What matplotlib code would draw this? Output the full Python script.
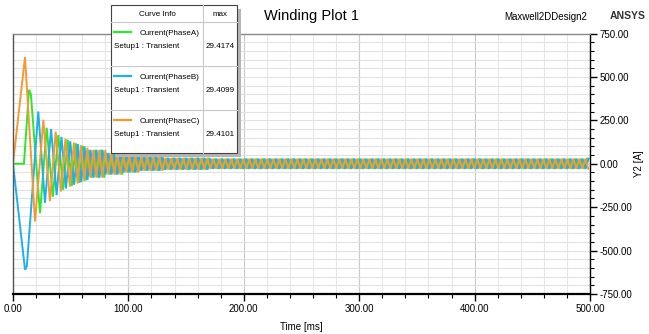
import numpy as np
import matplotlib
matplotlib.use("Agg")
import matplotlib.pyplot as plt
from matplotlib.patches import Rectangle
from matplotlib.lines import Line2D
from matplotlib.ticker import MultipleLocator, FormatStrFormatter

plt.rcParams['font.family'] = ['Liberation Sans', 'DejaVu Sans']

phaseA_t = [0, 9.5, 13.9, 15.5, 23.4, 29.2, 34.5, 39.3, 43.5, 47.4, 51.0, 54.4, 57.6, 60.6, 63.4]
phaseA_v = [0, 0, 426, 400, -284, 207, -190, 165, -150, 138, -127, 118, -110, 103, -96]
phaseB_t = [0, 10.4, 12.0, 21.9, 27.7, 33.0, 37.8, 42.0, 45.9, 49.6, 53.0, 56.2, 59.2, 62.0, 64.6]
phaseB_v = [0, -610, -590, 301, -225, 200, -180, 155, -142, 130, -121, 113, -106, 99, -93]
phaseC_t = [0, 10.4, 19.1, 26.3, 32.0, 37.0, 41.5, 45.5, 49.3, 52.8, 56.0, 59.0, 61.8, 64.4]
phaseC_v = [0, 614, -332, 253, -215, 185, -160, 145, -132, 122, -114, 106, -99, 92]

# tail: peak amplitude per time segment (piecewise constant), half period of the oscillation
tail_edges = [64, 80, 95, 110, 130, 170, 500]
tail_amp = [80, 62, 50, 40, 34, 29.4]
tail_half_period = 2.6

series_names = ["Current(PhaseA)", "Current(PhaseB)", "Current(PhaseC)"]
series_max = ["29.4174", "29.4099", "29.4101"]
colors = ["#2ee62e", "#1eb0ec", "#f59a32"]

x_ticks = [0, 100, 200, 300, 400, 500]
y_ticks = [-750, -500, -250, 0, 250, 500, 750]


def build(t_list, v_list):
    t = list(t_list)
    v = list(v_list)
    sign = -np.sign(v[-1])
    tt = t[-1] + tail_half_period
    while tt <= 500:
        k = np.searchsorted(tail_edges, tt, side="right") - 1
        k = min(max(k, 0), len(tail_amp) - 1)
        t.append(tt)
        v.append(sign * tail_amp[k])
        sign = -sign
        tt += tail_half_period
    return np.array(t), np.array(v)


W, H = 649, 334
fig = plt.figure(figsize=(W / 100, H / 100), dpi=100)
fig.patch.set_facecolor("white")


def fx(x):
    return x / W


def fy(y):
    return 1 - y / H


ax = fig.add_axes([fx(13), fy(294), fx(590) - fx(13), fy(33.5) - fy(294)])
ax.set_xlim(0, 500)
ax.set_ylim(-750, 750)

# grid
for xv in np.arange(20, 500, 20):
    ax.axvline(xv, color="#c8c8c8" if xv % 100 == 0 else "#e6e6e6", lw=0.8, zorder=0)
for yv in np.arange(-700, 750, 50):
    ax.axhline(yv, color="#e2e2e2", lw=0.8, zorder=0)

data = [(phaseA_t, phaseA_v), (phaseB_t, phaseB_v), (phaseC_t, phaseC_v)]
for (tl, vl), c in zip(data, colors):
    t, v = build(tl, vl)
    ax.plot(t, v, color=c, lw=1.4, zorder=2, solid_joinstyle="miter")

# axes styling
ax.yaxis.tick_right()
ax.yaxis.set_label_position("right")
ax.set_xticks(x_ticks)
ax.set_yticks(y_ticks)
ax.xaxis.set_minor_locator(MultipleLocator(20))
ax.yaxis.set_minor_locator(MultipleLocator(50))
ax.xaxis.set_major_formatter(FormatStrFormatter("%.2f"))
ax.yaxis.set_major_formatter(FormatStrFormatter("%.2f"))
ax.tick_params(axis="both", which="major", direction="out", length=5, width=1, labelsize=7, colors="black", pad=2)
ax.tick_params(axis="both", which="minor", direction="out", length=3, width=0.8)
ax.tick_params(axis="y", which="both", left=False, right=True, labelleft=False, labelright=True)
for s in ["top"]:
    ax.spines[s].set_color("#888888")
    ax.spines[s].set_linewidth(1.0)
ax.spines["left"].set_color("#555555")
ax.spines["left"].set_linewidth(1.0)
ax.spines["bottom"].set_linewidth(1.6)
ax.spines["right"].set_linewidth(1.0)
ax.set_xlabel("Time [ms]", fontsize=7, labelpad=6)
ax.set_ylabel("Y2 [A]", fontsize=7, labelpad=1)

# titles
fig.text(fx(312), fy(16), "Winding Plot 1", fontsize=10.5, ha="center", va="center")
fig.text(fx(546), fy(17), "Maxwell2DDesign2", fontsize=7, ha="center", va="center")
fig.text(fx(628), fy(16), "ANSYS", fontsize=7.5, ha="center", va="center", fontweight="bold", color="#333333")

# legend table
bx0, bx1, by0, by1 = 111, 237, 5, 153
shadow = Rectangle((fx(bx0 + 4), fy(by1 + 4)), fx(bx1) - fx(bx0), fy(by0) - fy(by1),
                   transform=fig.transFigure, facecolor="#b5b5b5", edgecolor="none", zorder=5)
fig.add_artist(shadow)
box = Rectangle((fx(bx0), fy(by1)), fx(bx1) - fx(bx0), fy(by0) - fy(by1),
                transform=fig.transFigure, facecolor="white", edgecolor="#444444", lw=0.8, zorder=6)
fig.add_artist(box)
for yl in [22, 66, 110]:
    fig.add_artist(Line2D([fx(bx0), fx(bx1)], [fy(yl), fy(yl)], transform=fig.transFigure,
                          color="#c8c8c8", lw=0.8, zorder=7))
fig.add_artist(Line2D([fx(203), fx(203)], [fy(by0), fy(by1)], transform=fig.transFigure,
                      color="#c8c8c8", lw=0.8, zorder=7))
fig.text(fx(157), fy(15), "Curve Info", fontsize=5.8, ha="center", va="center", zorder=8)
fig.text(fx(220), fy(15), "max", fontsize=5.8, ha="center", va="center", zorder=8)
for i, (name, mx, c) in enumerate(zip(series_names, series_max, colors)):
    y0 = 32 + 44 * i
    fig.add_artist(Line2D([fx(114), fx(131)], [fy(y0), fy(y0)], transform=fig.transFigure,
                          color=c, lw=1.6, zorder=8))
    fig.text(fx(140), fy(y0 + 1.5), name, fontsize=5.8, ha="left", va="center", zorder=8)
    fig.text(fx(114), fy(y0 + 15), "Setup1 : Transient", fontsize=5.8, ha="left", va="center", zorder=8)
    fig.text(fx(220), fy(y0 + 15), mx, fontsize=5.8, ha="center", va="center", zorder=8)

fig.savefig("out.png", dpi=100, facecolor="white")
